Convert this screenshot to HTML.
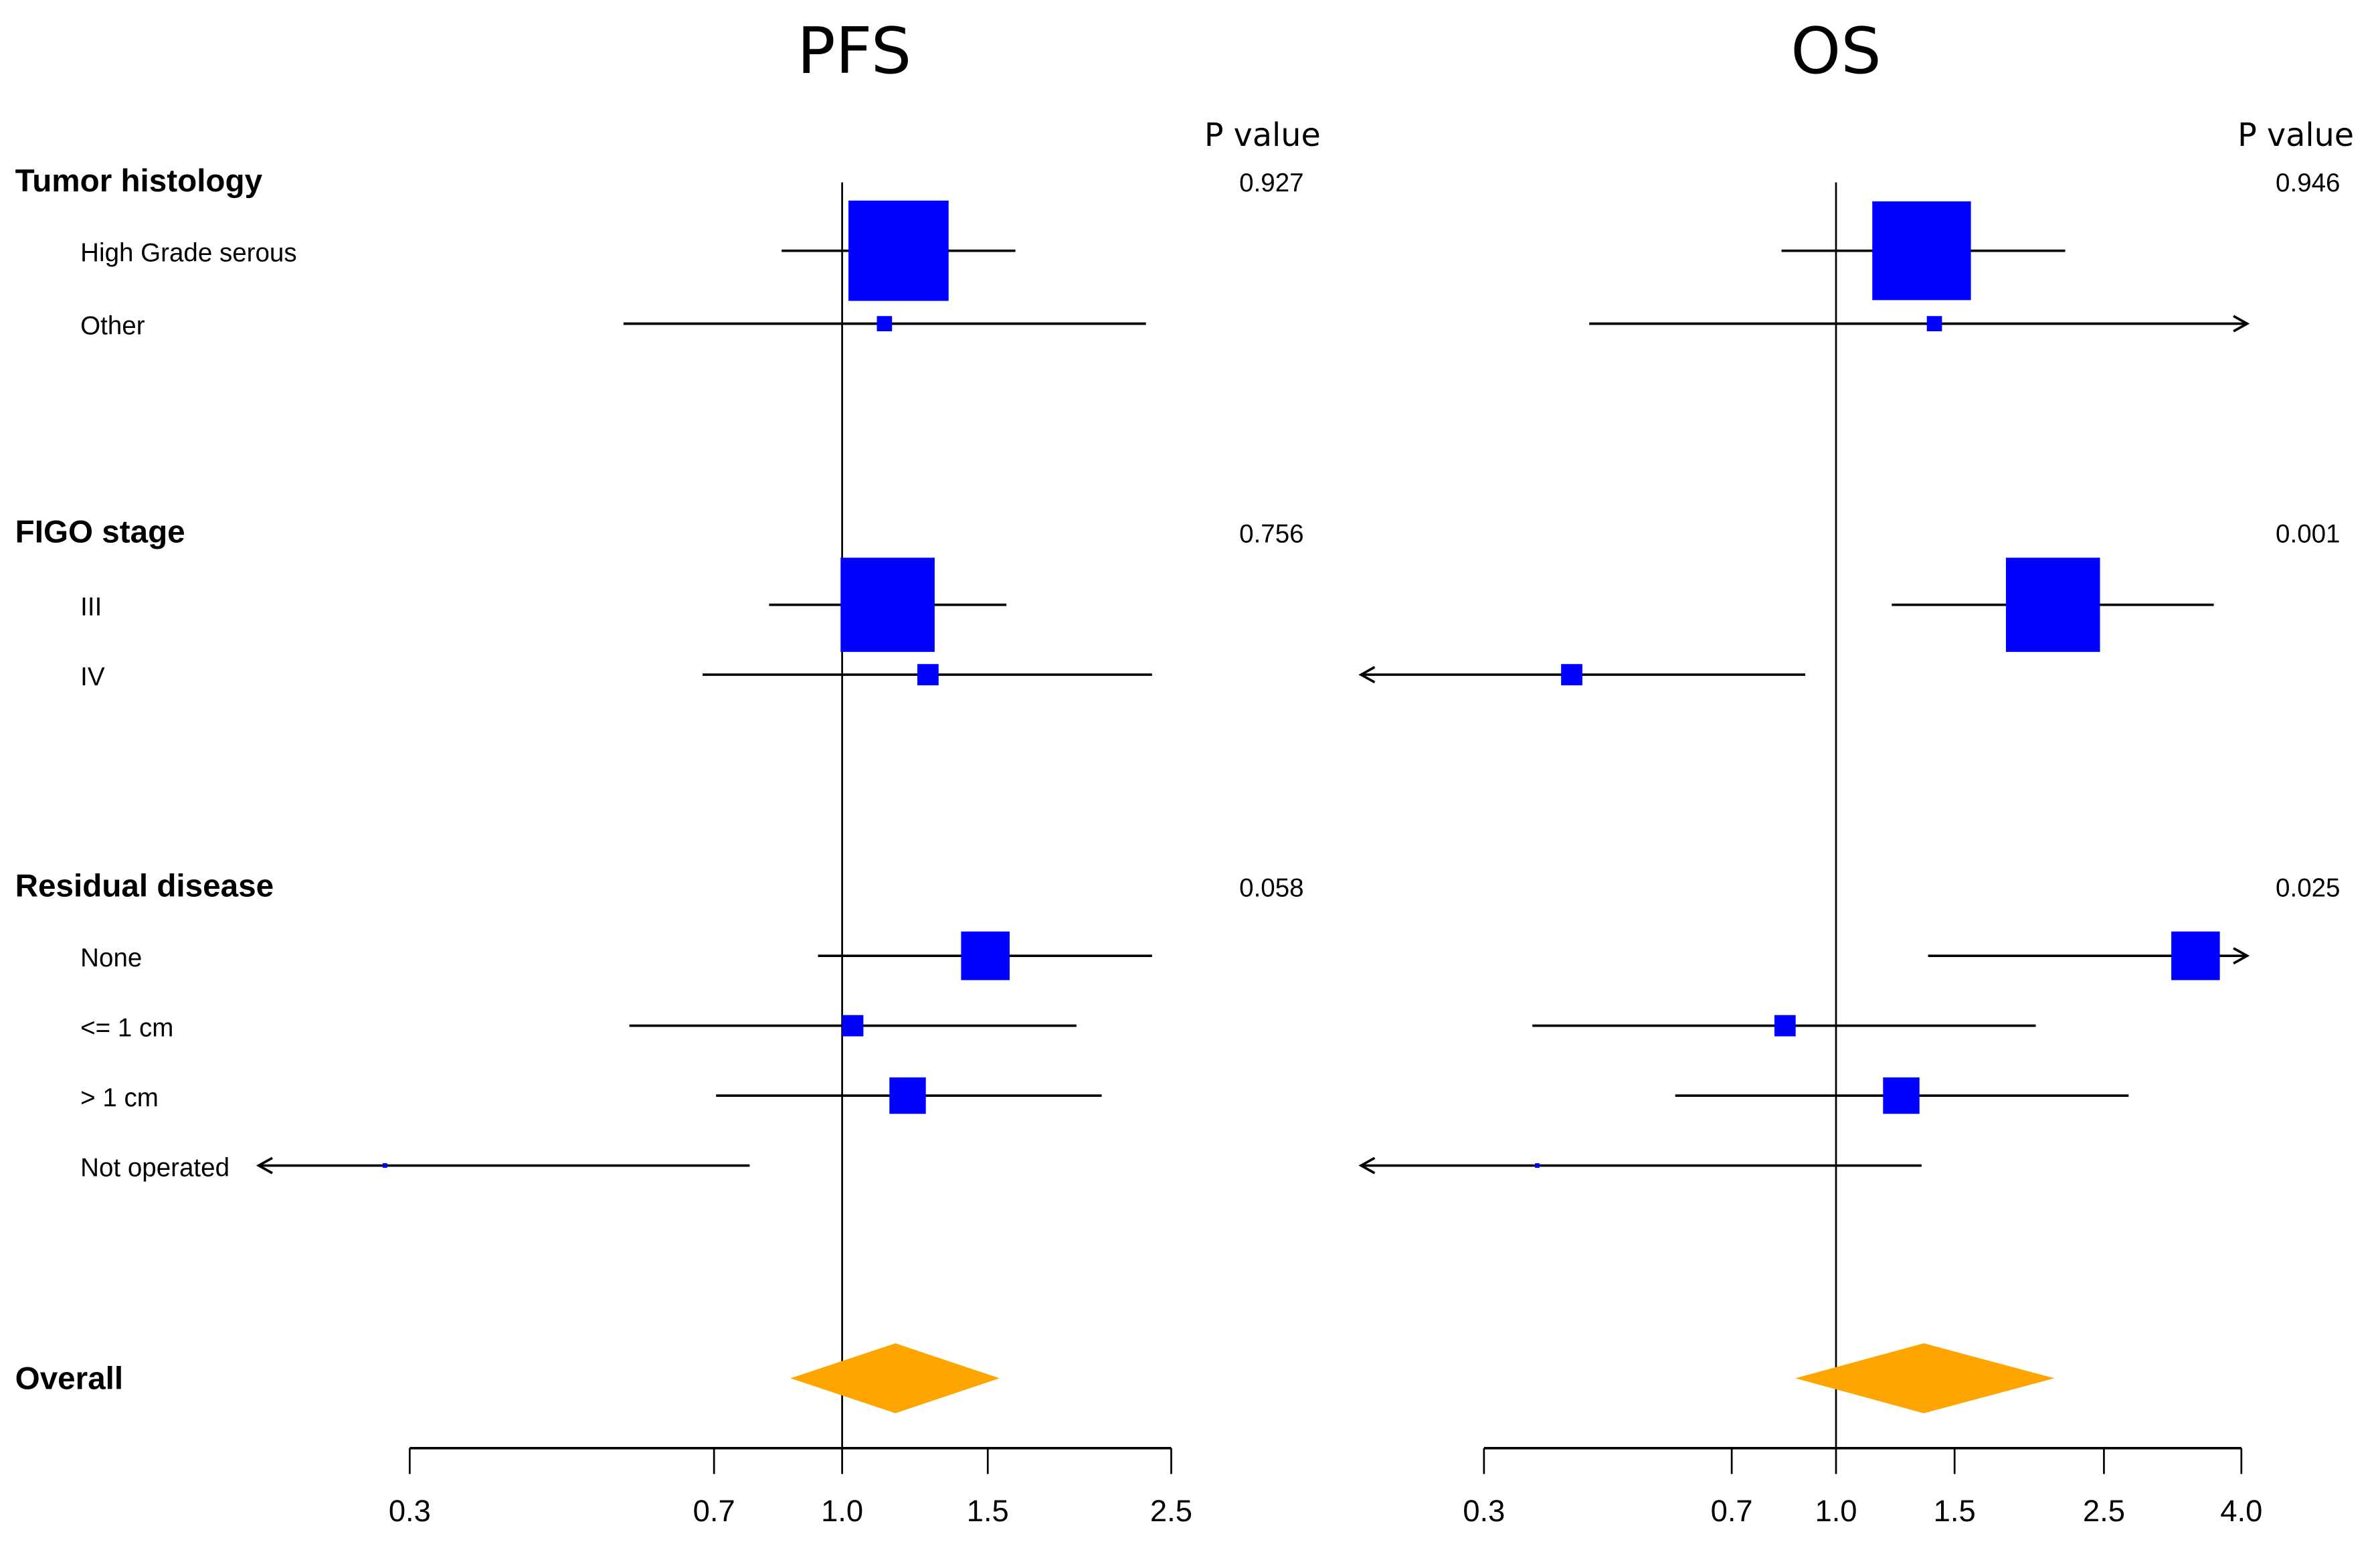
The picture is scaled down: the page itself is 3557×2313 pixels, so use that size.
<!DOCTYPE html>
<html><head><meta charset="utf-8"><style>
html,body{margin:0;padding:0;background:#fff;}
svg{display:block;}
</style></head><body>
<svg id="chart" width="3557" height="2313" viewBox="0 0 1568.5 1018.7" preserveAspectRatio="none" xmlns="http://www.w3.org/2000/svg">
<g id="static" font-family="Liberation Sans, sans-serif" fill="#000">
  <text x="563" y="48" font-family="DejaVu Sans, sans-serif" font-size="42" text-anchor="middle">PFS</text>
  <text x="1210" y="48" font-family="DejaVu Sans, sans-serif" font-size="42" text-anchor="middle">OS</text>
  <text x="832" y="96" font-family="DejaVu Sans, sans-serif" font-size="21" text-anchor="middle">P value</text>
  <text x="1513" y="96" font-family="DejaVu Sans, sans-serif" font-size="21" text-anchor="middle">P value</text>
</g>
<g id="labels" font-family="Liberation Sans, sans-serif"></g>
<g id="plots"></g>
</svg>
<script>
const rowLabels = ["Tumor histology","High Grade serous","Other","FIGO stage","III","IV","Residual disease","None","<= 1 cm","> 1 cm","Not operated","Overall"];
const rowIsHeader = [true,false,false,true,false,false,true,false,false,false,false,true];
const rowY = [119,165,213,350,398,444,583,629,675,721,767,907];
const pfsP = ["0.927","","","0.756","","","0.058","","","","",""];
const osP  = ["0.946","","","0.001","","","0.025","","","","",""];
const studyRows = [1,2,4,5,7,8,9,10];
const pfsHR = [1.17,1.125,1.135,1.27,1.49,1.03,1.20,0.28];
const pfsLo = [0.845,0.544,0.816,0.678,0.935,0.553,0.704,0.10];
const pfsHi = [1.62,2.33,1.58,2.37,2.37,1.92,2.06,0.773];
const pfsWeight = [66,10,62,14,32,14,24,3];
const pfsOverall = [1.16,0.866,1.55];
const osHR = [1.34,1.40,2.10,0.405,3.42,0.84,1.25,0.36];
const osLo = [0.83,0.43,1.21,0.10,1.37,0.354,0.577,0.10];
const osHi = [2.19,5.0,3.64,0.90,5.0,1.98,2.72,1.34];
const osWeight = [65,10,62,14,32,14,24,3];
const osOverall = [1.35,0.87,2.11];
const pfsTicks = [0.3,0.7,1.0,1.5,2.5];
const pfsTickLabels = ["0.3","0.7","1.0","1.5","2.5"];
const osTicks = [0.3,0.7,1.0,1.5,2.5,4.0];
const osTickLabels = ["0.3","0.7","1.0","1.5","2.5","4.0"];
const clipMin = 0.197, clipMax = 4.08;

const NS = "http://www.w3.org/2000/svg";
function mk(tag, attrs, parent){ const e=document.createElementNS(NS,tag); for(const k in attrs) e.setAttribute(k,attrs[k]); parent.appendChild(e); return e; }
const xPfs = v => 555 + 236.7*Math.log(v);
const xOs = v => 1210 + 192.7*Math.log(v);

const lab = document.getElementById('labels');
rowLabels.forEach((t,i)=>{
  const e = mk('text',{x: rowIsHeader[i]?10:53, y: rowY[i]+7, 'font-size': rowIsHeader[i]?21:17, 'font-weight': rowIsHeader[i]?'bold':'normal'}, lab);
  e.textContent = t;
  
  
});
function pvals(arr, cx){
  arr.forEach((t,i)=>{ if(!t) return;
    const e = mk('text',{x:cx, y:rowY[i]+7, 'font-size':17, 'text-anchor':'middle'}, lab);
    e.textContent = t;
    
    
  });
}
pvals(pfsP, 838); pvals(osP, 1521);

const plots = document.getElementById('plots');
function panel(xf, hr, lo, hi, w, ov, ticks, tlabels){
  const g = mk('g',{},plots);
  const ref = mk('line',{x1:xf(1),x2:xf(1),y1:120,y2:953,stroke:'#000','stroke-width':1.2},g);
  
  
  hr.forEach((h,i)=>{
    const y = rowY[studyRows[i]];
    const l = Math.max(lo[i],clipMin), r = Math.min(hi[i],clipMax);
    const x1 = xf(l), x2 = xf(r);
    const ln = mk('line',{x1:x1,x2:x2,y1:y,y2:y,stroke:'#000','stroke-width':1.6},g);
    
    
    if(lo[i]<clipMin){ const a=mk('path',{d:`M${x1+9},${y-5} L${x1},${y} L${x1+9},${y+5}`,fill:'none',stroke:'#000','stroke-width':1.6},g);
        }
    if(hi[i]>clipMax){ const a=mk('path',{d:`M${x2-9},${y-5} L${x2},${y} L${x2-9},${y+5}`,fill:'none',stroke:'#000','stroke-width':1.6},g);
        }
    const s = w[i];
    const b = mk('rect',{x:xf(h)-s/2,y:y-s/2,width:s,height:s,fill:'#0000ff'},g);
    
    
  });
  const oy = rowY[11];
  const d = mk('polygon',{points:`${xf(ov[1])},${oy} ${xf(ov[0])},${oy-23} ${xf(ov[2])},${oy} ${xf(ov[0])},${oy+23}`,fill:'#ffa500'},g);
  
  
  const ax = mk('line',{x1:xf(ticks[0]),x2:xf(ticks[ticks.length-1]),y1:953,y2:953,stroke:'#000','stroke-width':1.6},g);
  
  
  ticks.forEach((t,i)=>{
    const tk = mk('line',{x1:xf(t),x2:xf(t),y1:953,y2:970,stroke:'#000','stroke-width':1.2},g);
    
    
    const tl = mk('text',{x:xf(t),y:1001,'font-size':20,'text-anchor':'middle','font-family':'Liberation Sans, sans-serif'},g);
    tl.textContent = tlabels[i];
    
    
  });
}
panel(xPfs, pfsHR, pfsLo, pfsHi, pfsWeight, pfsOverall, pfsTicks, pfsTickLabels);
panel(xOs, osHR, osLo, osHi, osWeight, osOverall, osTicks, osTickLabels);
</script>
</body></html>
